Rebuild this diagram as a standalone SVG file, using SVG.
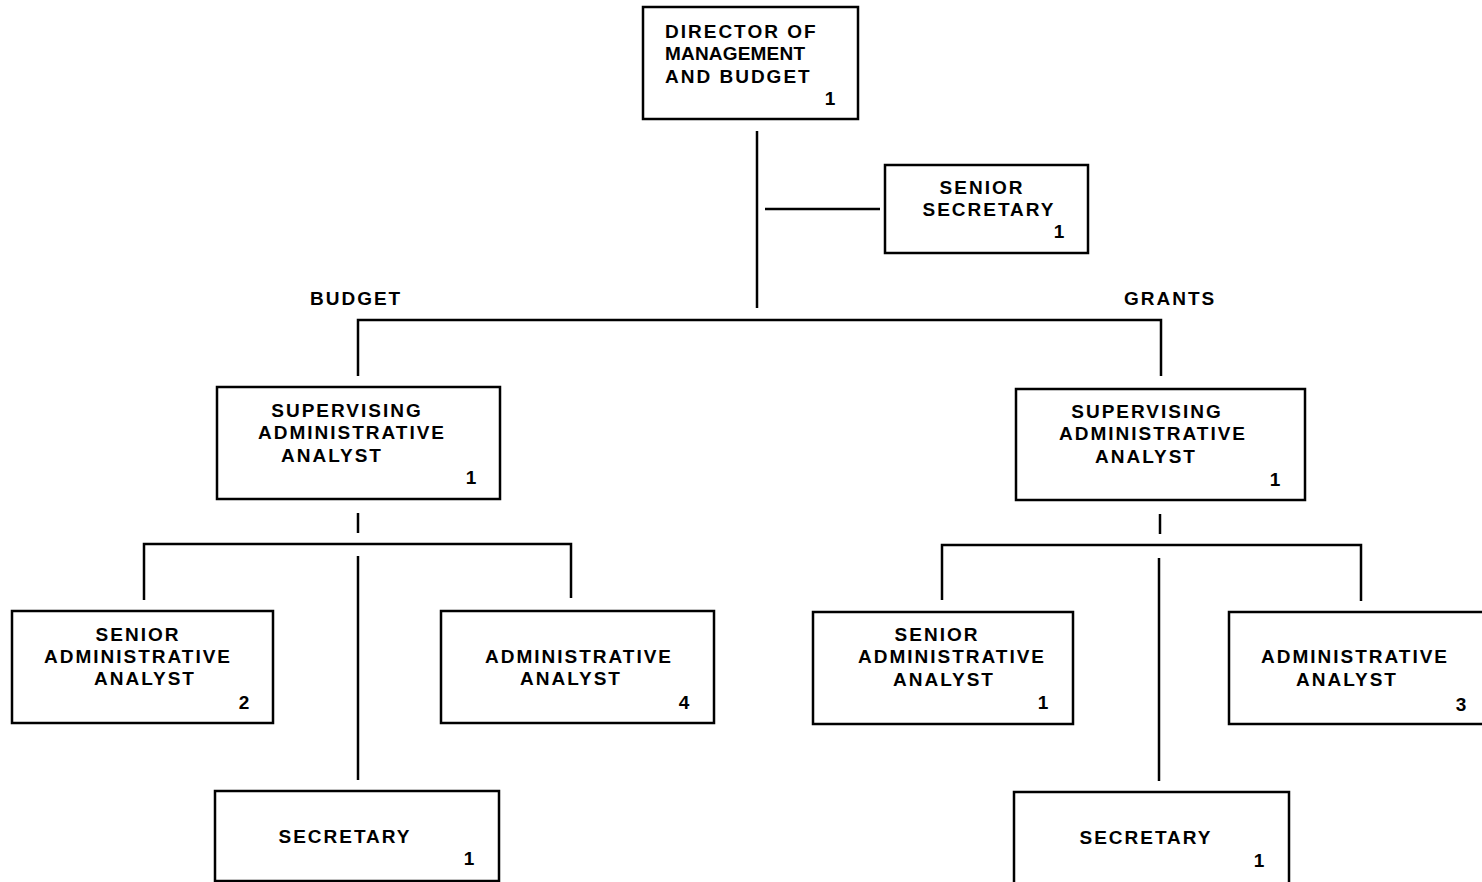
<svg xmlns="http://www.w3.org/2000/svg" width="1482" height="882" viewBox="0 0 1482 882">
<style>
.box{fill:#fff;stroke:#000;stroke-width:2.5}
.ln{stroke:#000;stroke-width:2.5;fill:none}
text{font-family:"Liberation Sans",Arial,sans-serif;font-weight:bold;font-size:19px;letter-spacing:2px;fill:#000}
.c{text-anchor:middle}
.n{text-anchor:middle;letter-spacing:0}
</style>
<rect width="1482" height="882" fill="#fff"/>
<g id="connectors">
<line class="ln" x1="757" y1="131" x2="757" y2="308"/>
<line class="ln" x1="765" y1="209" x2="880" y2="209"/>
<polyline class="ln" points="358,376 358,320 1161,320 1161,376"/>
<line class="ln" x1="358" y1="513" x2="358" y2="533"/>
<polyline class="ln" points="144,600 144,544 571,544 571,598"/>
<line class="ln" x1="358" y1="556" x2="358" y2="780"/>
<line class="ln" x1="1160" y1="514" x2="1160" y2="534"/>
<polyline class="ln" points="942,600 942,545 1361,545 1361,601"/>
<line class="ln" x1="1159" y1="558" x2="1159" y2="781"/>
</g>
<g id="label-budget"><text x="310" y="305">BUDGET</text></g>
<g id="label-grants"><text x="1124" y="305">GRANTS</text></g>
<g id="director">
<rect class="box" x="643" y="7" width="215" height="112"/>
<text x="665" y="38">DIRECTOR OF</text>
<text x="665" y="60" textLength="142">MANAGEMENT</text>
<text x="665" y="83">AND BUDGET</text>
<text class="n" x="830" y="105">1</text>
</g>
<g id="senior-secretary">
<rect class="box" x="885" y="165" width="203" height="88"/>
<text class="c" x="982" y="194">SENIOR</text>
<text class="c" x="989" y="216">SECRETARY</text>
<text class="n" x="1059" y="238">1</text>
</g>
<g id="budget-supervising">
<rect class="box" x="217" y="387" width="283" height="112"/>
<text class="c" x="347" y="417">SUPERVISING</text>
<text class="c" x="352" y="439">ADMINISTRATIVE</text>
<text class="c" x="332" y="462">ANALYST</text>
<text class="n" x="471" y="484">1</text>
</g>
<g id="grants-supervising">
<rect class="box" x="1016" y="389" width="289" height="111"/>
<text class="c" x="1147" y="418">SUPERVISING</text>
<text class="c" x="1153" y="440">ADMINISTRATIVE</text>
<text class="c" x="1146" y="463">ANALYST</text>
<text class="n" x="1275" y="486">1</text>
</g>
<g id="budget-senior-analyst">
<rect class="box" x="12" y="611" width="261" height="112"/>
<text class="c" x="138" y="641">SENIOR</text>
<text class="c" x="138" y="663">ADMINISTRATIVE</text>
<text class="c" x="145" y="685">ANALYST</text>
<text class="n" x="244" y="709">2</text>
</g>
<g id="budget-analyst">
<rect class="box" x="441" y="611" width="273" height="112"/>
<text class="c" x="579" y="663">ADMINISTRATIVE</text>
<text class="c" x="571" y="685">ANALYST</text>
<text class="n" x="684" y="709">4</text>
</g>
<g id="budget-secretary">
<rect class="box" x="215" y="791" width="284" height="90"/>
<text class="c" x="345" y="843">SECRETARY</text>
<text class="n" x="469" y="865">1</text>
</g>
<g id="grants-senior-analyst">
<rect class="box" x="813" y="612" width="260" height="112"/>
<text class="c" x="937" y="641">SENIOR</text>
<text class="c" x="952" y="663">ADMINISTRATIVE</text>
<text class="c" x="944" y="686">ANALYST</text>
<text class="n" x="1043" y="709">1</text>
</g>
<g id="grants-analyst">
<rect class="box" x="1229" y="612" width="260" height="112"/>
<text class="c" x="1355" y="663">ADMINISTRATIVE</text>
<text class="c" x="1347" y="686">ANALYST</text>
<text class="n" x="1461" y="711">3</text>
</g>
<g id="grants-secretary">
<rect class="box" x="1014" y="792" width="275" height="92"/>
<text class="c" x="1146" y="844">SECRETARY</text>
<text class="n" x="1259" y="867">1</text>
</g>
</svg>
